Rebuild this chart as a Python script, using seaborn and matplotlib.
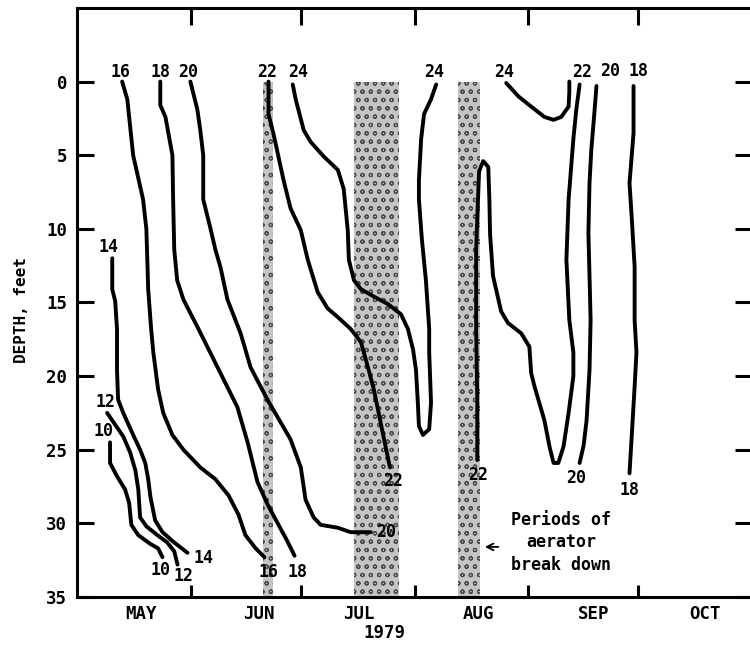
import matplotlib
matplotlib.use("Agg")
import matplotlib.pyplot as plt
import pandas as pd
import seaborn as sns

sns.set_theme(style="white")
plt.rcParams["font.family"] = ["DejaVu Sans Mono", "DejaVu Sans"]
plt.rcParams["font.weight"] = "bold"
plt.rcParams["hatch.linewidth"] = 0.8
for key in ["text.color", "axes.labelcolor", "xtick.color", "ytick.color", "axes.edgecolor"]:
    plt.rcParams[key] = "black"

# Time axis: days after 1 May 1979.  Depth in feet below the surface.
iso10_day = [9.0, 9.0, 10.9, 13.1, 14.2, 14.8, 16.7, 20.0, 22.1, 23.3]
iso10_depth = [24.5, 25.9, 26.8, 27.7, 28.6, 30.1, 30.8, 31.4, 31.7, 32.3]

iso12_day = [8.2, 10.4, 12.6, 14.5, 15.9, 16.7, 17.2, 18.9, 21.9, 24.6, 26.5, 27.4]
iso12_depth = [22.5, 23.3, 24.1, 25.2, 26.4, 27.7, 29.6, 30.2, 30.8, 31.3, 31.9, 32.8]

iso14_day = [9.6, 9.6, 10.4, 10.9, 10.9, 11.2, 12.6, 15.5, 17.2, 18.6, 19.4, 20.0,
             21.3, 23.3, 26.0, 30.1]
iso14_depth = [12.0, 14.1, 14.9, 16.8, 19.6, 21.6, 22.5, 24.1, 25.0, 25.9, 27.0, 28.2,
               29.8, 30.6, 31.2, 32.0]

iso16_day = [12.3, 13.7, 15.3, 18.0, 18.9, 19.4, 20.2, 20.8, 22.1, 23.5, 26.0, 29.0,
             33.6, 37.7, 41.3, 44.0, 45.9, 48.7, 51.1]
iso16_depth = [0.0, 1.2, 5.0, 8.0, 10.0, 14.1, 16.8, 18.4, 20.9, 22.5, 24.0, 25.0,
               26.2, 27.0, 28.1, 29.4, 30.8, 31.7, 32.3]

iso18a_day = [22.7, 22.7, 24.1, 26.0, 26.2, 26.5, 27.3, 29.0, 33.1, 38.3, 43.7, 46.5,
              49.2, 51.9, 54.7, 57.1, 59.3]
iso18a_depth = [0.0, 1.6, 2.4, 5.0, 8.0, 11.4, 13.5, 14.8, 16.8, 19.4, 22.1, 24.5,
                27.2, 28.7, 30.0, 31.1, 32.2]

iso20a_day = [30.9, 32.8, 33.6, 34.4, 34.4, 36.4, 37.7, 39.1, 41.0, 44.6, 47.3, 51.9,
              54.7, 58.2, 61.0, 62.3, 64.5, 66.4, 71.1, 74.6, 80.1]
iso20a_depth = [0.0, 1.9, 3.3, 5.0, 8.0, 10.0, 11.4, 12.6, 14.8, 17.1, 19.4, 21.6,
                22.8, 24.3, 26.2, 28.4, 29.6, 30.1, 30.3, 30.6, 30.6]

iso22a_day = [52.2, 52.2, 53.6, 56.3, 58.2, 61.0, 62.9, 65.6, 68.3, 71.1, 74.6, 77.4,
              79.3, 80.9, 82.3, 83.7, 85.3]
iso22a_depth = [0.0, 2.2, 3.6, 6.7, 8.6, 10.1, 12.1, 14.3, 15.4, 16.0, 16.8, 17.7,
                19.4, 20.9, 22.6, 24.3, 26.2]

iso24a_day = [58.8, 59.6, 61.8, 63.7, 67.3, 71.1, 72.7, 73.8, 74.1, 75.5, 77.4, 80.9,
              84.7, 88.3, 90.2, 91.6, 92.4, 92.9, 93.2, 94.3, 96.0, 96.5, 96.0, 96.0,
              95.1, 94.0, 93.2, 93.2, 93.8, 94.6, 96.5, 97.9]
iso24a_depth = [0.2, 1.2, 3.3, 4.1, 5.1, 6.0, 7.3, 10.1, 12.1, 13.5, 14.1, 14.6,
                15.1, 15.8, 16.8, 18.2, 19.6, 21.8, 23.4, 24.0, 23.6, 21.8, 18.4, 16.8,
                13.5, 10.7, 8.0, 6.7, 3.9, 2.2, 1.2, 0.2]

iso22b_day = [109.1, 109.1, 108.8, 108.8, 109.3, 109.6, 110.7, 112.1, 112.4, 112.6,
              113.4, 115.6, 117.5, 121.1, 123.3, 123.8, 124.7, 127.4, 128.8, 129.9,
              131.2, 132.6, 134.0, 135.3, 135.3, 134.2, 133.4, 134.0, 135.3, 136.1,
              137.0]
iso22b_depth = [25.7, 21.6, 16.8, 11.4, 8.0, 6.1, 5.4, 5.8, 8.0, 10.4,
                13.2, 15.6, 16.4, 17.1, 18.0, 19.8, 20.7, 23.0, 24.8, 25.9,
                25.9, 24.8, 22.5, 20.0, 18.4, 16.2, 12.1, 8.0, 3.9, 1.9,
                0.2]

iso24b_day = [117.0, 120.3, 123.8, 127.4, 129.9, 132.0, 134.0, 134.2, 134.2]
iso24b_depth = [0.1, 1.0, 1.7, 2.4, 2.6, 2.4, 1.7, 0.7, 0.0]

iso20b_day = [141.6, 141.1, 140.2, 139.7, 139.4, 139.7, 140.0, 139.7, 138.9, 138.1, 137.0]
iso20b_depth = [0.3, 1.9, 4.6, 6.9, 10.3, 13.2, 16.2, 19.6, 23.0, 24.7, 25.9]

iso18b_day = [151.7, 151.7, 150.6, 151.2, 152.0, 152.0, 152.5, 152.0, 151.2, 150.6]
iso18b_depth = [0.3, 3.5, 6.9, 9.2, 12.6, 16.2, 18.4, 20.7, 24.1, 26.6]

# Aerator outages (days after 1 May)
outage_start = [50.8, 75.5, 103.9]
outage_end = [53.3, 87.8, 109.9]

month_names = ["MAY", "JUN", "JUL", "AUG", "SEP", "OCT"]
month_label_day = [17.5, 49.5, 76.8, 109.3, 140.8, 171.1]
month_start_day = [31, 61, 92, 123, 153]
depth_ticks = [0, 5, 10, 15, 20, 25, 30, 35]

isotherms = {
    "10": (10, iso10_day, iso10_depth),
    "12": (12, iso12_day, iso12_depth),
    "14": (14, iso14_day, iso14_depth),
    "16": (16, iso16_day, iso16_depth),
    "18a": (18, iso18a_day, iso18a_depth),
    "20a": (20, iso20a_day, iso20a_depth),
    "22a": (22, iso22a_day, iso22a_depth),
    "24a": (24, iso24a_day, iso24a_depth),
    "22b": (22, iso22b_day, iso22b_depth),
    "24b": (24, iso24b_day, iso24b_depth),
    "20b": (20, iso20b_day, iso20b_depth),
    "18b": (18, iso18b_day, iso18b_depth),
}

rows = []
for seg, (temp, days, depths) in isotherms.items():
    for i, (d, z) in enumerate(zip(days, depths)):
        rows.append({"seg": seg, "order": i, "day": d, "depth": z})
df = pd.DataFrame(rows)

# (segment, end index, offset x px, offset y px)
label_spots = [
    ("10", 0, -7, 11), ("10", -1, -2, -13),
    ("12", 0, -2, 11), ("12", -1, 6, -11),
    ("14", 0, -4, 11), ("14", -1, 16, -5),
    ("16", 0, -2, 10), ("16", -1, 4, -15),
    ("18a", 0, 0, 10), ("18a", -1, 3, -16),
    ("20a", 0, -2, 10), ("20a", -1, 15, 0),
    ("22a", 0, -1, 10), ("22a", -1, 3, -14),
    ("24a", 0, 5, 13), ("24a", -1, -2, 13),
    ("22b", 0, 1, -15), ("22b", -1, 3, 13),
    ("24b", 0, -2, 11),
    ("20b", 0, 14, 15), ("20b", -1, -3, -15),
    ("18b", 0, 5, 15), ("18b", -1, 0, -17),
]

fig = plt.figure(figsize=(7.5, 6.46), dpi=100)
ax = fig.add_axes([0.1027, 0.0759, 0.9, 0.9118])

for s, e in zip(outage_start, outage_end):
    ax.fill_between([s, e], 0, 35, facecolor="#c4c4c4", edgecolor="#4a4a4a",
                    hatch="oo", linewidth=0, zorder=1)

sns.lineplot(data=df, x="day", y="depth", units="seg", estimator=None, sort=False,
             color="black", linewidth=2.8, legend=False, ax=ax, zorder=3)
for line in ax.lines:
    line.set_solid_joinstyle("round")

px = 0.72
for seg, idx, dx, dy in label_spots:
    temp, days, depths = isotherms[seg]
    ax.annotate(str(temp), xy=(days[idx], depths[idx]), xytext=(dx * px, dy * px),
                textcoords="offset points", ha="center", va="center",
                fontsize=12, fontweight="bold", zorder=4)

ax.text(132.0, 31.3, "Periods of\naerator\nbreak down", ha="center", va="center",
        multialignment="center", fontsize=12, fontweight="bold", linespacing=1.3)
ax.annotate("", xy=(110.4, 31.6), xytext=(115.6, 31.6),
            arrowprops=dict(arrowstyle="->", lw=1.3, color="black"))

ax.set_xlim(0, 184)
ax.set_ylim(35, -5)
ax.set_xlabel("")
ax.set_ylabel("")

ax.set_yticks(depth_ticks)
ax.set_yticklabels([str(d) for d in depth_ticks], fontsize=12.5, fontweight="bold")
ax.tick_params(axis="y", which="major", direction="in", length=12, width=2.2,
               left=True, right=True, pad=7, colors="black")

ax.set_xticks(month_start_day)
ax.set_xticklabels([])
ax.set_xticks(month_label_day, minor=True)
ax.set_xticklabels(month_names, minor=True, fontsize=12.5, fontweight="bold")
ax.tick_params(axis="x", which="major", direction="in", length=9, width=2.2,
               bottom=True, top=False, colors="black")
ax.tick_params(axis="x", which="minor", length=0, pad=6, bottom=True, colors="black")

top = ax.secondary_xaxis("top")
top.set_xticks(month_start_day)
top.set_xticklabels([])
top.tick_params(axis="x", direction="in", length=12.5, width=2.2, colors="black")
top.spines["top"].set_visible(False)

for side in ["left", "bottom", "top", "right"]:
    ax.spines[side].set_color("black")
    ax.spines[side].set_linewidth(2.2)

fig.text(22 / 750, 1 - 310 / 646, "DEPTH, feet", rotation=90, ha="center",
         va="center", fontsize=11.5, fontweight="bold")
fig.text(384 / 750, 1 - 633 / 646, "1979", ha="center", va="center",
         fontsize=12.5, fontweight="bold")

fig.savefig("out.png", dpi=100, facecolor="white")
